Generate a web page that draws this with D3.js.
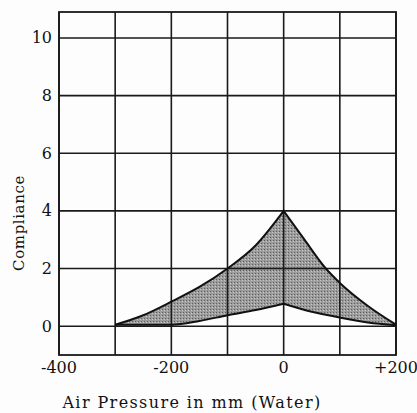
<!DOCTYPE html>
<html>
<head>
<meta charset="utf-8">
<script src="https://cdn.jsdelivr.net/npm/d3@7"></script>
<style>
  body { margin: 0; background: #fdfdfd; }
  text { font-family: "DejaVu Serif", serif; fill: #111; }
</style>
</head>
<body>
<script>
// upper and lower boundary of the shaded compliance band (cusp at 0)
const upperX = [-300, -250, -200, -150, -100, -50, 0, 37, 75, 100, 150, 200];
const upperY = [0.05, 0.38, 0.85, 1.36, 2.0, 2.8, 4.0, 3.0, 2.0, 1.5, 0.7, 0.05];
const lowerX = [-300, -200, -150, -100, -50, 0, 50, 100, 150, 200];
const lowerY = [0.05, 0.05, 0.18, 0.38, 0.56, 0.78, 0.5, 0.3, 0.13, 0.03];

const xTicks = [-400, -200, 0, 200];
const xTickLabels = ['-400', '-200', '0', '+200'];
const xGrid = [-400, -300, -200, -100, 0, 100, 200];
const yTicks = [0, 2, 4, 6, 8, 10];

const width = 417, height = 413;
const margin = {top: 12, right: 21, bottom: 58, left: 59};

const svg = d3.select('body').append('svg')
    .attr('width', width)
    .attr('height', height);

const x = d3.scaleLinear().domain([-400, 200]).range([margin.left, width - margin.right]);
const y = d3.scaleLinear().domain([-1, 10.9]).range([height - margin.bottom, margin.top]);

const upper = upperX.map((v, i) => [v, upperY[i]]);
const lower = lowerX.map((v, i) => [v, lowerY[i]]);

const line = d3.line()
    .x(d => x(d[0]))
    .y(d => y(d[1]))
    .curve(d3.curveMonotoneX);

// draw each side separately so the peak stays a sharp cusp
function cuspPath(pts) {
    const left = pts.filter(d => d[0] <= 0);
    const right = pts.filter(d => d[0] >= 0);
    return line(left) + 'L' + line(right).slice(1);
}

// stipple pattern for the shaded band
const defs = svg.append('defs');
const pat = defs.append('pattern')
    .attr('id', 'stip')
    .attr('width', 3)
    .attr('height', 3)
    .attr('patternUnits', 'userSpaceOnUse');
pat.append('rect').attr('width', 3).attr('height', 3).attr('fill', '#9c9c9c');
pat.append('rect').attr('width', 1).attr('height', 1).attr('fill', '#5e5e5e');
pat.append('rect').attr('x', 2).attr('y', 1).attr('width', 1).attr('height', 1).attr('fill', '#c8c8c8');

// band = area under upper minus area under lower (evenodd)
const base = y(0);
const upperClosed = cuspPath(upper) + `L${x(200)},${base}L${x(-300)},${base}Z`;
const lowerClosed = cuspPath(lower) + `L${x(200)},${base}L${x(-300)},${base}Z`;
svg.append('path')
    .attr('d', upperClosed + lowerClosed)
    .attr('fill-rule', 'evenodd')
    .attr('fill', 'url(#stip)')
    .attr('stroke', 'none');

// grid
svg.append('g')
    .selectAll('line')
    .data(xGrid)
    .join('line')
    .attr('x1', d => x(d)).attr('x2', d => x(d))
    .attr('y1', y(10.9)).attr('y2', y(-1))
    .attr('stroke', '#1a1a1a')
    .attr('stroke-width', 1.6);

svg.append('g')
    .selectAll('line')
    .data(yTicks)
    .join('line')
    .attr('x1', x(-400)).attr('x2', x(200))
    .attr('y1', d => y(d)).attr('y2', d => y(d))
    .attr('stroke', '#1a1a1a')
    .attr('stroke-width', 1.6);

svg.append('rect')
    .attr('x', x(-400)).attr('y', y(10.9))
    .attr('width', x(200) - x(-400))
    .attr('height', y(-1) - y(10.9))
    .attr('fill', 'none')
    .attr('stroke', '#1a1a1a')
    .attr('stroke-width', 1.8);

// curves
svg.append('path')
    .attr('d', cuspPath(upper))
    .attr('fill', 'none')
    .attr('stroke', '#111')
    .attr('stroke-width', 2);

svg.append('path')
    .attr('d', cuspPath(lower))
    .attr('fill', 'none')
    .attr('stroke', '#111')
    .attr('stroke-width', 2);

// tick labels
svg.append('g')
    .selectAll('text')
    .data(yTicks)
    .join('text')
    .attr('x', margin.left - 7)
    .attr('y', d => y(d) + 5.5)
    .attr('text-anchor', 'end')
    .attr('font-size', 16)
    .text(d => d);

svg.append('g')
    .selectAll('text')
    .data(xTicks)
    .join('text')
    .attr('x', d => x(d))
    .attr('y', 373)
    .attr('text-anchor', 'middle')
    .attr('font-size', 16)
    .text((d, i) => xTickLabels[i]);

// axis titles
svg.append('text')
    .attr('x', 192)
    .attr('y', 408)
    .attr('text-anchor', 'middle')
    .attr('font-size', 16)
    .attr('letter-spacing', 1.4)
    .text('Air Pressure in mm (Water)');

svg.append('text')
    .attr('transform', 'translate(24,223) rotate(-90)')
    .attr('text-anchor', 'middle')
    .attr('font-size', 15)
    .attr('letter-spacing', 0.6)
    .text('Compliance');
</script>
</body>
</html>
